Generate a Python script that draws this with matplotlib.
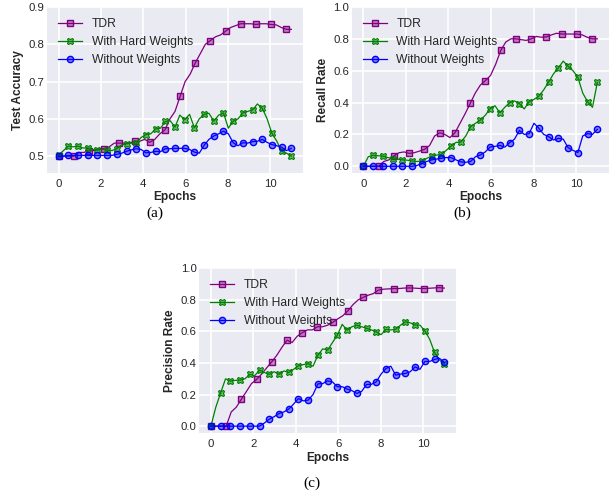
import numpy as np
import matplotlib
matplotlib.use('Agg')
import matplotlib.pyplot as plt

# x positions of the samples (epochs)
epochs = np.linspace(0, 11, 49)      # With / Without Weights
epochs_tdr = np.linspace(0, 11, 47)  # TDR

# (a) Test accuracy
acc_tdr = [0.50, 0.50, 0.50, 0.50, 0.51, 0.51, 0.515, 0.515, 0.52, 0.52,
           0.525, 0.535, 0.535, 0.535, 0.535, 0.54, 0.54, 0.545, 0.537, 0.545,
           0.56, 0.57, 0.60, 0.62, 0.66, 0.70, 0.72, 0.75, 0.775, 0.80,
           0.81, 0.82, 0.825, 0.835, 0.845, 0.85, 0.855, 0.855, 0.855, 0.853,
           0.855, 0.855, 0.853, 0.852, 0.845, 0.84, 0.84]
acc_hard = [0.503, 0.515, 0.527, 0.525, 0.527, 0.522, 0.522, 0.518, 0.516, 0.518,
            0.516, 0.515, 0.52, 0.53, 0.533, 0.535, 0.535, 0.55, 0.558, 0.56,
            0.573, 0.575, 0.593, 0.595, 0.578, 0.61, 0.598, 0.612, 0.576, 0.60,
            0.612, 0.615, 0.594, 0.61, 0.616, 0.575, 0.594, 0.60, 0.616, 0.62,
            0.624, 0.64, 0.628, 0.60, 0.561, 0.54, 0.513, 0.508, 0.50]
acc_none = [0.50, 0.50, 0.502, 0.502, 0.502, 0.502, 0.502, 0.502, 0.502, 0.502,
            0.502, 0.502, 0.505, 0.508, 0.513, 0.517, 0.52, 0.518, 0.509, 0.51,
            0.513, 0.512, 0.52, 0.52, 0.521, 0.521, 0.521, 0.518, 0.511, 0.508,
            0.529, 0.545, 0.554, 0.56, 0.567, 0.56, 0.536, 0.528, 0.536, 0.535,
            0.539, 0.54, 0.545, 0.537, 0.531, 0.528, 0.524, 0.515, 0.521]

# (b) Recall rate
rec_tdr = [0.0, 0.0, 0.0, 0.0, 0.03, 0.04, 0.065, 0.085, 0.09, 0.081,
           0.085, 0.095, 0.106, 0.13, 0.19, 0.21, 0.20, 0.18, 0.21, 0.27,
           0.33, 0.395, 0.46, 0.51, 0.538, 0.57, 0.64, 0.727, 0.78, 0.80,
           0.80, 0.795, 0.79, 0.80, 0.815, 0.81, 0.812, 0.825, 0.835, 0.83,
           0.83, 0.83, 0.83, 0.825, 0.81, 0.80, 0.80]
rec_hard = [0.0, 0.06, 0.069, 0.066, 0.063, 0.055, 0.048, 0.045, 0.04, 0.038,
            0.033, 0.03, 0.033, 0.05, 0.063, 0.07, 0.075, 0.10, 0.127, 0.15,
            0.152, 0.19, 0.249, 0.27, 0.29, 0.32, 0.361, 0.38, 0.336, 0.37,
            0.399, 0.41, 0.393, 0.36, 0.405, 0.42, 0.44, 0.48, 0.528, 0.58,
            0.618, 0.66, 0.628, 0.60, 0.559, 0.46, 0.405, 0.37, 0.526]
rec_none = [0.0, 0.0, 0.0, 0.0, 0.0, 0.0, 0.0, 0.0, 0.0, 0.0,
            0.0, 0.005, 0.017, 0.03, 0.04, 0.045, 0.05, 0.055, 0.054, 0.04,
            0.027, 0.025, 0.03, 0.06, 0.071, 0.09, 0.121, 0.125, 0.131, 0.12,
            0.148, 0.17, 0.225, 0.20, 0.205, 0.27, 0.238, 0.20, 0.186, 0.165,
            0.175, 0.17, 0.117, 0.10, 0.086, 0.19, 0.205, 0.20, 0.232]

# (c) Precision rate
pre_tdr = [0.0, 0.0, 0.0, 0.0, 0.09, 0.12, 0.171, 0.22, 0.27, 0.296,
           0.33, 0.37, 0.408, 0.45, 0.50, 0.545, 0.53, 0.57, 0.592, 0.61,
           0.61, 0.63, 0.63, 0.64, 0.657, 0.68, 0.70, 0.731, 0.77, 0.80,
           0.816, 0.83, 0.84, 0.862, 0.868, 0.87, 0.872, 0.872, 0.875, 0.876,
           0.875, 0.873, 0.872, 0.874, 0.876, 0.878, 0.875]
pre_hard = [0.0, 0.12, 0.211, 0.30, 0.285, 0.29, 0.292, 0.30, 0.328, 0.32,
            0.355, 0.34, 0.328, 0.345, 0.328, 0.35, 0.34, 0.36, 0.382, 0.39,
            0.396, 0.38, 0.45, 0.49, 0.482, 0.53, 0.577, 0.645, 0.609, 0.63,
            0.64, 0.63, 0.62, 0.61, 0.598, 0.58, 0.613, 0.61, 0.613, 0.64,
            0.661, 0.655, 0.64, 0.64, 0.604, 0.55, 0.467, 0.42, 0.393]
pre_none = [0.0, 0.0, 0.0, 0.0, 0.0, 0.0, 0.0, 0.0, 0.0, 0.0,
            0.0, 0.02, 0.044, 0.06, 0.08, 0.09, 0.108, 0.14, 0.175, 0.16,
            0.165, 0.20, 0.268, 0.27, 0.287, 0.28, 0.25, 0.25, 0.235, 0.225,
            0.207, 0.22, 0.264, 0.265, 0.281, 0.33, 0.365, 0.38, 0.323, 0.33,
            0.334, 0.345, 0.376, 0.36, 0.41, 0.41, 0.423, 0.43, 0.404]

labels = ['TDR', 'With Hard Weights', 'Without Weights']

plt.rcParams['font.family'] = ['Liberation Sans', 'DejaVu Sans']
plt.rcParams['axes.facecolor'] = '#EAEAF2'
plt.rcParams['axes.edgecolor'] = 'white'
plt.rcParams['grid.color'] = 'white'
plt.rcParams['text.color'] = '.15'
plt.rcParams['axes.labelcolor'] = '.15'
plt.rcParams['xtick.color'] = '.15'
plt.rcParams['ytick.color'] = '.15'

fig = plt.figure(figsize=(6.16, 4.97), dpi=100)

panels = [
    ([0.0763, 0.652, 0.4156, 0.334], acc_tdr, acc_hard, acc_none, 'Test Accuracy', (0.455, 0.9),
     [0.5, 0.6, 0.7, 0.8, 0.9], '(a)', (155, 213)),
    ([0.571, 0.652, 0.4177, 0.334], rec_tdr, rec_hard, rec_none, 'Recall Rate', (-0.042, 1.0),
     [0.0, 0.2, 0.4, 0.6, 0.8, 1.0], '(b)', (462, 213)),
    ([0.3235, 0.128, 0.4167, 0.332], pre_tdr, pre_hard, pre_none, 'Precision Rate', (-0.046, 1.0),
     [0.0, 0.2, 0.4, 0.6, 0.8, 1.0], '(c)', (312, 483)),
]

for rect, tdr, hard, none, ylabel, ylim, yticks, tag, tagpos in panels:
    ax = fig.add_axes(rect)
    ax.plot(epochs_tdr, tdr, color='purple', lw=0.9, marker='s', ms=4.5, markevery=3,
            mfc=(0.5, 0, 0.5, 0.45), mec='purple', mew=1.0, label=labels[0])
    ax.plot(epochs, hard, color='green', lw=0.9, marker='X', ms=5, markevery=2,
            mfc=(0, 0.5, 0, 0.55), mec='green', mew=0.8, label=labels[1])
    ax.plot(epochs, none, color='blue', lw=0.9, marker='o', ms=4.5, markevery=2,
            mfc=(0, 0, 1, 0.45), mec='blue', mew=1.0, label=labels[2])
    ax.set_xlim(-0.55, 11.55)
    ax.set_ylim(*ylim)
    ax.set_xticks([0, 2, 4, 6, 8, 10])
    ax.set_yticks(yticks)
    ax.grid(True, color='white', lw=1.2)
    ax.set_axisbelow(True)
    for s in ax.spines.values():
        s.set_visible(False)
    ax.tick_params(axis='both', length=0, labelsize=8.2)
    ax.tick_params(axis='y', pad=2)
    ax.tick_params(axis='x', pad=4)
    ax.set_xlabel('Epochs', fontsize=8.6, fontweight='bold', labelpad=2)
    ax.set_ylabel(ylabel, fontsize=8.6, fontweight='bold', labelpad=3)
    ax.legend(loc='upper left', frameon=False, fontsize=8.7, handlelength=2.0)
    fig.text(tagpos[0] / 616, 1 - tagpos[1] / 497, tag, ha='center', va='center',
             fontsize=11, family='Liberation Serif', color='black')

fig.savefig('out.png', dpi=100)
